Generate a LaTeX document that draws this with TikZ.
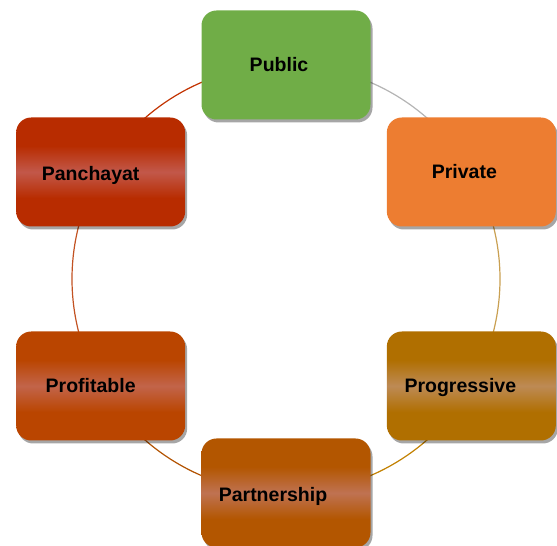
\documentclass[tikz,border=0pt]{standalone}
\usepackage{fontspec}
\setmainfont{Liberation Sans}
\usepackage{xcolor}
\definecolor{pubfill}{HTML}{70AD47}
\definecolor{privfill}{HTML}{ED7D31}
\definecolor{progdark}{HTML}{B06F00}
\definecolor{proglight}{HTML}{BD8A55}
\definecolor{partdark}{HTML}{B35600}
\definecolor{partlight}{HTML}{BF7252}
\definecolor{profdark}{HTML}{BA4500}
\definecolor{proflight}{HTML}{C2644A}
\definecolor{pancdark}{HTML}{B82C00}
\definecolor{panclight}{HTML}{C2584A}
\definecolor{arcgray}{HTML}{B4B4B4}
\definecolor{arcgold}{HTML}{C9A052}
\definecolor{arcamber}{HTML}{C28000}
\definecolor{arcbrown}{HTML}{B25200}
\definecolor{arcrust}{HTML}{C25222}
\definecolor{arcred}{HTML}{C23200}
\usepackage{tikz}
\usetikzlibrary{shadows,calc,backgrounds}
\pgfdeclareverticalshading{progshade}{100bp}{color(0bp)=(progdark); color(38bp)=(progdark); color(50bp)=(proglight); color(62bp)=(progdark); color(100bp)=(progdark)}
\pgfdeclareverticalshading{partshade}{100bp}{color(0bp)=(partdark); color(38bp)=(partdark); color(50bp)=(partlight); color(62bp)=(partdark); color(100bp)=(partdark)}
\pgfdeclareverticalshading{profshade}{100bp}{color(0bp)=(profdark); color(38bp)=(profdark); color(50bp)=(proflight); color(62bp)=(profdark); color(100bp)=(profdark)}
\pgfdeclareverticalshading{pancshade}{100bp}{color(0bp)=(pancdark); color(38bp)=(pancdark); color(50bp)=(panclight); color(62bp)=(pancdark); color(100bp)=(pancdark)}

\begin{document}
\begin{tikzpicture}[x=1pt,y=1pt,
  box/.style={rectangle,rounded corners=15pt,minimum width=169pt,minimum height=109pt,
    inner sep=0pt,drop shadow={shadow xshift=2pt,shadow yshift=-3pt,opacity=0.35,fill=black}},
  lbl/.style={font=\fontsize{19.5}{22}\selectfont\bfseries,text=black,inner sep=0pt,
    text height=14pt,text depth=0pt},
  ring/.style={line width=1.2pt}]
  \useasboundingbox (0,0) rectangle (557,546);
  \coordinate (c) at (286,267);
  % boxes on the ring
  \node[box,fill=pubfill] (pub) at ($(c)+(90:214)$) {};
  \node[box,fill=privfill] (priv) at ($(c)+(30:214)$) {};
  \node[box,shading=progshade] (prog) at ($(c)+(-30:214)$) {};
  \node[box,shading=partshade] (part) at ($(c)+(-90:214)$) {};
  \node[box,shading=profshade] (prof) at ($(c)+(-150:214)$) {};
  \node[box,shading=pancshade] (panc) at ($(c)+(150:214)$) {};
  % ring segments
  \begin{scope}[on background layer]
    \draw[ring,arcgray] (pub.center) arc[start angle=90,end angle=30,radius=214pt];
    \draw[ring,arcgold] (priv.center) arc[start angle=30,end angle=-30,radius=214pt];
    \draw[ring,arcamber] (prog.center) arc[start angle=-30,end angle=-90,radius=214pt];
    \draw[ring,arcbrown] (part.center) arc[start angle=-90,end angle=-150,radius=214pt];
    \draw[ring,arcrust] (prof.center) arc[start angle=210,end angle=150,radius=214pt];
    \draw[ring,arcred] (panc.center) arc[start angle=150,end angle=90,radius=214pt];
  \end{scope}
  \node[lbl] (publbl) at ($(pub)+(-7,0)$) {Public};
  \node[lbl] (privlbl) at ($(priv)+(-7,0)$) {Private};
  \node[lbl] (proglbl) at ($(prog)+(-11,0)$) {Progressive};
  \node[lbl] (partlbl) at ($(part)+(-13,-2)$) {Partnership};
  \node[lbl] (proflbl) at ($(prof)+(-10,0)$) {Profitable};
  \node[lbl] (panclbl) at ($(panc)+(-10,-2)$) {Panchayat};
\end{tikzpicture}
\end{document}
